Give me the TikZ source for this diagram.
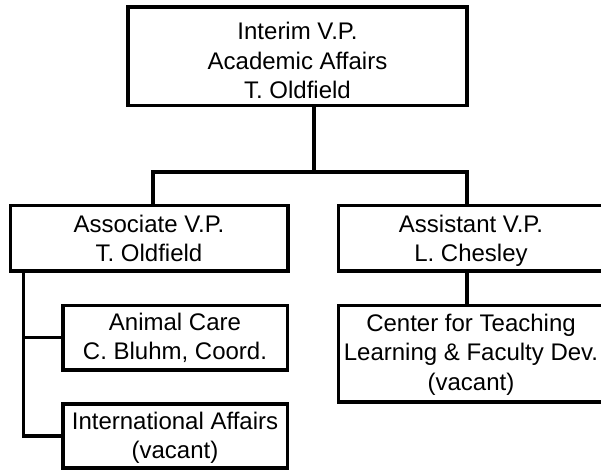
\documentclass[tikz,border=0pt]{standalone}
\usepackage{fontspec}
\setmainfont{Liberation Sans}
\begin{document}
\begin{tikzpicture}[x=1pt,y=-1pt,
  box/.style={draw, line width=3.3pt, rectangle, inner sep=0pt, outer sep=0pt, anchor=north west},
  wire/.style={line width=3.3pt},
  lbl/.style={anchor=base, inner sep=0pt, outer sep=0pt, font=\fontsize{24}{29.5}\selectfont}]
\clip (0,0) rectangle (601,470);
% boxes
\node[box, minimum width=339, minimum height=98.5] (top) at (128,7) {};
\node[box, minimum width=277.5, minimum height=65.5] (lc) at (10.5,205.5) {};
\node[box, minimum width=266, minimum height=65.5] (rc) at (338.5,205.5) {};
\node[box, minimum width=224.5, minimum height=64.5] (an) at (63,305.5) {};
\node[box, minimum width=224.5, minimum height=64] (ia) at (63,404) {};
\node[box, minimum width=266, minimum height=96.5] (ct) at (338.5,305.5) {};
% texts
\node[lbl] (topT) at (297.5,40) {\begin{tabular}[t]{@{}c@{}}Interim V.P.\\Academic Affairs\\T. Oldfield\end{tabular}};
\node[lbl] (lcT) at (149,232) {\begin{tabular}[t]{@{}c@{}}Associate V.P.\\T. Oldfield\end{tabular}};
\node[lbl] (rcT) at (471,232) {\begin{tabular}[t]{@{}c@{}}Assistant V.P.\\L. Chesley\end{tabular}};
\node[lbl] (anT) at (175,330) {\begin{tabular}[t]{@{}c@{}}Animal Care\\C. Bluhm, Coord.\end{tabular}};
\node[lbl] (iaT) at (175,429) {\begin{tabular}[t]{@{}c@{}}International Affairs\\(vacant)\end{tabular}};
\node[lbl] (ctT) at (471,331) {\begin{tabular}[t]{@{}c@{}}Center for Teaching\\Learning \& Faculty Dev.\\(vacant)\end{tabular}};
% connectors
\coordinate (j) at (314,172);
\coordinate (jl) at (153,172);
\coordinate (jr) at (467,172);
\coordinate (sp) at (23.5,0);
\draw[wire] (top.south -| j) -- (j);
\draw[wire] (lc.north -| jl) -- (jl) -- (jr) -- (rc.north -| jr);
\draw[wire] (rc.south -| jr) -- (ct.north -| jr);
\draw[wire] (lc.south -| sp) |- (ia.west);
\draw[wire] (an.west -| sp) -- (an.west);
\end{tikzpicture}
\end{document}
